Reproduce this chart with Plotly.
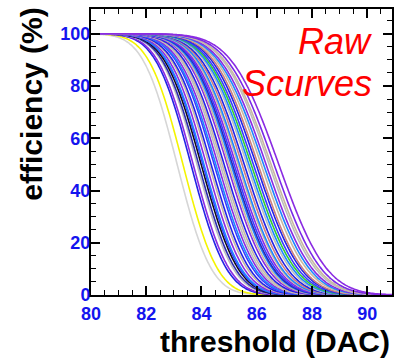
import math
import plotly.graph_objects as go

# threshold grid (DAC) on which each fitted S-curve is drawn
thr_min, thr_max, thr_step = 80.0, 91.0, 0.05

# per-pixel S-curve parameters: 50% point, width, colour
midpoints = [83.12, 83.33, 83.62, 83.70, 83.84, 83.90, 83.99, 84.05, 84.09, 84.18,
             84.28, 84.35, 84.46, 84.52, 84.60, 84.68, 84.75, 84.82, 84.93, 85.00,
             85.07, 85.12, 85.18, 85.25, 85.33, 85.38, 85.47, 85.55, 85.65, 85.72,
             85.80, 85.88, 85.98, 86.05, 86.16, 86.25, 86.34, 86.45, 86.52, 86.63,
             86.80]
widths = [0.97, 0.98, 1.01, 1.02, 1.03, 1.04, 1.05, 1.05, 1.06, 1.07,
          1.08, 1.09, 1.10, 1.11, 1.12, 1.12, 1.13, 1.14, 1.15, 1.16,
          1.17, 1.17, 1.18, 1.19, 1.20, 1.20, 1.21, 1.22, 1.23, 1.24,
          1.25, 1.26, 1.27, 1.27, 1.29, 1.30, 1.31, 1.32, 1.33, 1.34,
          1.36]
colors = ["#d6d6d6", "#f4f400", "#2323e6", "#8a2be2", "#bdbdbd", "#2a2ab0", "#111111", "#3a3aff", "#1e86ff", "#8a2be2",
          "#c8b8a0", "#2323e6", "#3a3aff", "#1e86ff", "#8a2be2", "#bdbdbd", "#c8b8a0", "#2323e6", "#8a2be2", "#c8b8a0",
          "#1e86ff", "#2a2ab0", "#3a3aff", "#8a2be2", "#c8b8a0", "#1e86ff", "#cd8080", "#2323e6", "#bdbdbd", "#1e86ff",
          "#33cc33", "#3a3aff", "#2323e6", "#cd8080", "#c8b8a0", "#1e86ff", "#8a2be2", "#bdbdbd", "#c8b8a0", "#7a2ae8",
          "#8a2be2"]

n = int(round((thr_max - thr_min) / thr_step)) + 1
xs = [thr_min + i * thr_step for i in range(n)]

fig = go.Figure()
for mu, sg, c in zip(midpoints, widths, colors):
    ys = [50.0 * math.erfc((x - mu) / (math.sqrt(2) * sg)) for x in xs]
    fig.add_trace(go.Scatter(x=xs, y=ys, mode="lines",
                             line=dict(color=c, width=1.6, shape="spline"),
                             showlegend=False, hoverinfo="skip"))

tickfont = dict(family="Liberation Sans, Arial, sans-serif", size=18, color="#1414ee", weight="bold")
titlefont = dict(family="Liberation Sans, Arial, sans-serif", size=30, color="black", weight="bold")
labelfont = dict(family="Liberation Sans, Arial, sans-serif", size=36, color="#ff0000", style="italic")

fig.update_layout(
    width=407, height=364,
    margin=dict(l=91, r=15, t=7, b=69),
    paper_bgcolor="white", plot_bgcolor="white",
    showlegend=False,
    xaxis=dict(range=[80, 90.9], tickmode="linear", tick0=80, dtick=2,
               ticks="inside", ticklen=9, tickwidth=1.5, tickcolor="black",
               minor=dict(dtick=0.5, ticks="inside", ticklen=5, tickwidth=1.2, tickcolor="black"),
               showline=True, linecolor="black", linewidth=2, mirror="ticks",
               showgrid=False, zeroline=False, tickfont=tickfont, ticklabelstandoff=1),
    yaxis=dict(range=[0, 109.5], tickmode="linear", tick0=0, dtick=20,
               ticks="inside", ticklen=9, tickwidth=1.5, tickcolor="black",
               minor=dict(dtick=5, ticks="inside", ticklen=5, tickwidth=1.2, tickcolor="black"),
               showline=True, linecolor="black", linewidth=2, mirror="ticks",
               showgrid=False, zeroline=False, tickfont=tickfont, ticklabelstandoff=-5),
    annotations=[
        dict(text="threshold (DAC)", xref="paper", yref="paper", x=1.0, y=-0.163,
             xanchor="right", yanchor="middle", showarrow=False, font=titlefont),
        dict(text="efficiency (%)", xref="paper", yref="paper", x=-0.196, y=1.01,
             xanchor="center", yanchor="top", textangle=-90, showarrow=False, font=titlefont),
        dict(text="Raw", xref="paper", yref="paper", x=0.94, y=0.885,
             xanchor="right", yanchor="middle", showarrow=False, font=labelfont),
        dict(text="Scurves", xref="paper", yref="paper", x=0.94, y=0.74,
             xanchor="right", yanchor="middle", showarrow=False, font=labelfont),
    ],
)

fig.write_html("out.html")
